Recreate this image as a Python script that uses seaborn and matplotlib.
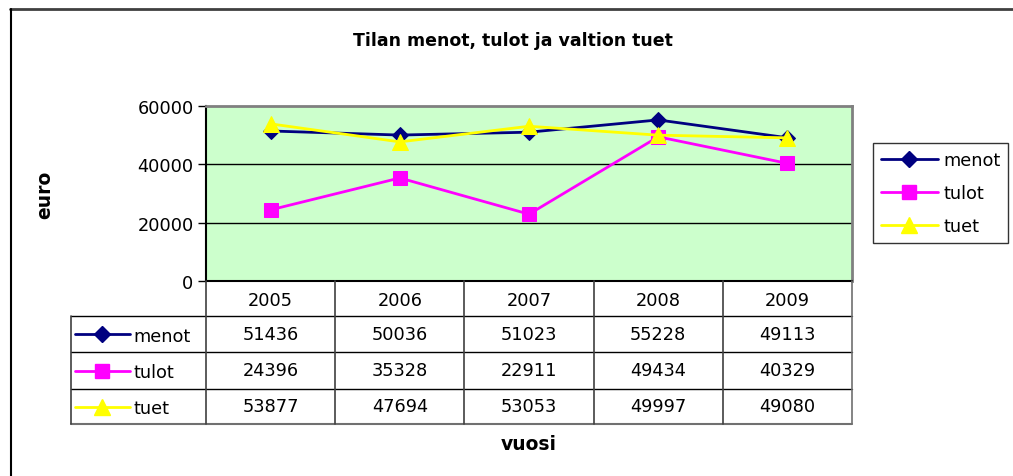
import numpy as np
import pandas as pd
import matplotlib
matplotlib.use("Agg")
import matplotlib.pyplot as plt
import matplotlib.transforms as mtransforms
from matplotlib.lines import Line2D
import seaborn as sns

years = [2005, 2006, 2007, 2008, 2009]
menot = [51436, 50036, 51023, 55228, 49113]
tulot = [24396, 35328, 22911, 49434, 40329]
tuet = [53877, 47694, 53053, 49997, 49080]
series_names = ["menot", "tulot", "tuet"]
y_ticks = [0, 20000, 40000, 60000]

colors = {"menot": "#000080", "tulot": "#FF00FF", "tuet": "#FFFF00"}
markers = {"menot": "D", "tulot": "s", "tuet": "^"}
msizes = {"menot": 8, "tulot": 10, "tuet": 11}

sns.set_theme(style="white")
plt.rcParams["font.family"] = ["DejaVu Sans"]
plt.rcParams["text.color"] = "black"
plt.rcParams["ytick.color"] = "black"
plt.rcParams["ytick.labelcolor"] = "black"

W, H = 1013, 477
fig = plt.figure(figsize=(W / 100, H / 100), dpi=100)

def fx(px):
    return px / W

def fy(py):
    return 1 - py / H

FS = 12.8
L, T, R, B = 206, 107, 852, 282
ax = fig.add_axes([fx(L), fy(B), fx(R - L), (B - T) / H])
ax.set_facecolor("#CCFFCC")

df = pd.DataFrame({
    "vuosi": years * 3,
    "euro": menot + tulot + tuet,
    "sarja": [n for n in series_names for _ in years],
})
for name in series_names:
    sns.lineplot(data=df[df["sarja"] == name], x="vuosi", y="euro", ax=ax,
                 color=colors[name], marker=markers[name], markersize=msizes[name],
                 markeredgecolor=colors[name], linewidth=2, legend=False)

ax.set_xlim(years[0] - 0.5, years[-1] + 0.5)
ax.set_ylim(0, 60000)
ax.set_yticks(y_ticks)
ax.set_yticklabels([str(v) for v in y_ticks], fontsize=FS, color="black")
ax.set_xticks([])
ax.set_xlabel("")
ax.set_ylabel("")
ax.tick_params(axis="y", length=6, width=1, color="black", labelcolor="black", pad=3, left=True)
for y in y_ticks[1:-1]:
    ax.axhline(y, color="black", linewidth=1, zorder=0.5)
for s in ["top", "right"]:
    ax.spines[s].set_color("#808080")
    ax.spines[s].set_linewidth(2)
for s in ["left", "bottom"]:
    ax.spines[s].set_color("black")
    ax.spines[s].set_linewidth(1.5)

# title and labels
fig.text(fx(513), fy(41), "Tilan menot, tulot ja valtion tuet", ha="center", va="center",
         fontsize=12.5, fontweight="bold", color="black")
fig.text(fx(45), fy(195), "euro", ha="center", va="center", rotation=90,
         fontsize=13.5, fontweight="bold", color="black")
fig.text(fx(529), fy(445), "vuosi", ha="center", va="center",
         fontsize=13.5, fontweight="bold", color="black")

# data table
trans = mtransforms.blended_transform_factory(ax.transData, fig.transFigure)
rows = [282, 317, 353, 390, 425]
for yr in years:
    ax.text(yr, fy((rows[0] + rows[1]) / 2 + 1), str(yr), transform=trans, ha="center",
            va="center", fontsize=FS, color="black", clip_on=False)
data_rows = [menot, tulot, tuet]
for r, (name, vals) in enumerate(zip(series_names, data_rows)):
    yc = fy((rows[r + 1] + rows[r + 2]) / 2)
    for yr, v in zip(years, vals):
        ax.text(yr, yc, str(v), transform=trans, ha="center", va="center",
                fontsize=FS, color="black", clip_on=False)
    # legend key in table
    fig.add_artist(Line2D([fx(75), fx(130)], [yc, yc], color=colors[name], linewidth=2))
    fig.add_artist(Line2D([fx(102)], [yc], color=colors[name], marker=markers[name],
                          markersize=msizes[name], markeredgecolor=colors[name]))
    fig.text(fx(133), yc - 2 / H, name, ha="left", va="center", fontsize=FS, color="black")

# horizontal table lines
for py in rows[1:4]:
    fig.add_artist(Line2D([fx(71), fx(R)], [fy(py), fy(py)], color="black", linewidth=1))
fig.add_artist(Line2D([fx(71), fx(R)], [fy(rows[4]), fy(rows[4])], color="#707070", linewidth=1.5))
# vertical table lines
bounds = [years[0] - 0.5] + [y + 0.5 for y in years]
for xb in bounds:
    ln = Line2D([xb, xb], [fy(rows[0]), fy(rows[4])], transform=trans,
                color="#404040" if xb != bounds[-1] else "#707070", linewidth=1.2)
    fig.add_artist(ln)
fig.add_artist(Line2D([fx(71), fx(71)], [fy(rows[1]), fy(rows[4])], color="#404040", linewidth=1.2))

# legend
handles = [Line2D([], [], color=colors[n], marker=markers[n], markersize=msizes[n],
                  markeredgecolor=colors[n], linewidth=2) for n in series_names]
leg = fig.legend(handles, series_names, loc="upper left",
                 bbox_to_anchor=(fx(873), fy(144)), borderaxespad=0,
                 frameon=True, fancybox=False, edgecolor="black", fontsize=FS,
                 handlelength=3.2, handletextpad=0.3, labelspacing=0.85,
                 borderpad=0.45)
leg.get_frame().set_linewidth(1)
for t in leg.get_texts():
    t.set_color("black")

# outer frame
fig.add_artist(Line2D([fx(10), 1], [fy(10), fy(10)], color="#404040", linewidth=2))
fig.add_artist(Line2D([fx(10.5), fx(10.5)], [fy(10), 0], color="black", linewidth=1.5))

fig.savefig("out.png", dpi=100, facecolor="white")
